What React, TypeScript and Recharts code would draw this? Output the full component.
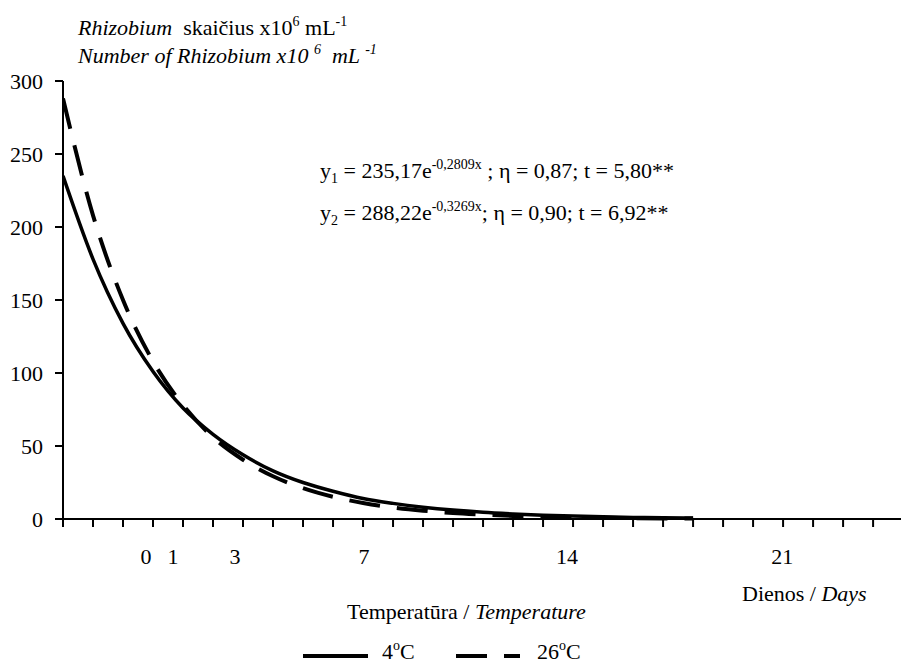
import React from 'react';
import { LineChart, Line, XAxis, YAxis } from 'recharts';

// days (axis tick units) 0..21, counts
const days = [0, 1, 2, 3, 4, 5, 6, 7, 8, 9, 10, 11, 12, 13, 14, 15, 16, 17, 18, 19, 20, 21];
const count4C = [235, 178, 134, 101, 76, 58, 44, 33, 25, 19, 14, 10.7, 8.1, 6.1, 4.6, 3.5, 2.6, 2.0, 1.5, 1.1, 0.85, 0.65];
const count26C = [288, 208, 150, 108, 78, 56, 40.6, 29.3, 21.1, 15.2, 11, 7.9, 5.7, 4.1, 3, 2.1, 1.5, 1.1, 0.8, 0.6, 0.4, 0.3];

const yTicks = [0, 50, 100, 150, 200, 250, 300];
const xMinorTicks = Array.from({ length: 28 }, (_, i) => i);
const xLabels = ['0', '1', '3', '7', '14', '21'];
const xLabelPos = [2.77, 3.67, 5.73, 10.03, 16.8, 23.97];

const data = days.map((d, i) => ({ t: d, c4: count4C[i], c26: count26C[i] }));

const FONT = 'Liberation Serif, Times New Roman, serif';
const textStyle: React.CSSProperties = { fontFamily: FONT, fontSize: 22, whiteSpace: 'pre' };

export default function App() {
  return (
    <div style={{ position: 'absolute', left: 0, top: 0, width: 901, height: 663, background: '#fff', fontFamily: FONT }}>
      <LineChart
        width={901}
        height={663}
        data={data}
        margin={{ top: 81, right: 0, left: 0, bottom: 94 }}
      >
        <XAxis
          dataKey="t"
          type="number"
          domain={[0, 27.93]}
          ticks={xMinorTicks}
          tick={() => <g />}
          tickSize={8}
          height={10}
          interval={0}
          axisLine={{ stroke: '#000', strokeWidth: 2 }}
          tickLine={{ stroke: '#000', strokeWidth: 2 }}
          allowDataOverflow
        />
        <XAxis
          xAxisId="labels"
          dataKey="t"
          type="number"
          domain={[0, 27.93]}
          ticks={xLabelPos}
          tickFormatter={(v: number) => xLabels[xLabelPos.indexOf(v)] ?? ''}
          tickSize={0}
          tickMargin={19}
          height={40}
          axisLine={false}
          tickLine={false}
          interval={0}
          tick={{ fill: '#000', fontSize: 22, style: { fontFamily: FONT } }}
          allowDataOverflow
        />
        <YAxis
          type="number"
          domain={[0, 300]}
          ticks={yTicks}
          width={63}
          tickSize={8}
          tickMargin={12}
          interval={0}
          axisLine={{ stroke: '#000', strokeWidth: 2 }}
          tickLine={{ stroke: '#000', strokeWidth: 2 }}
          tick={{ fill: '#000', fontSize: 22, style: { fontFamily: FONT } }}
        />
        <Line
          dataKey="c26"
          type="monotone"
          stroke="#000"
          strokeWidth={4}
          strokeDasharray="31 17"
          dot={false}
          isAnimationActive={false}
        />
        <Line
          dataKey="c4"
          type="monotone"
          stroke="#000"
          strokeWidth={3.5}
          dot={false}
          isAnimationActive={false}
        />
      </LineChart>

      <svg
        width={901}
        height={663}
        style={{ position: 'absolute', left: 0, top: 0, pointerEvents: 'none' }}
        fill="#000"
      >
        <text x={78} y={35} style={textStyle}>
          <tspan fontStyle="italic">Rhizobium</tspan>
          <tspan>{'  skaičius x10'}</tspan>
          <tspan dy={-9} fontSize={14}>6</tspan>
          <tspan dy={9}>{' mL'}</tspan>
          <tspan dy={-9} fontSize={14}>-1</tspan>
        </text>
        <text x={78} y={63} style={{ ...textStyle, fontStyle: 'italic' }}>
          <tspan>Number of Rhizobium x10 </tspan>
          <tspan dy={-9} fontSize={14}>6</tspan>
          <tspan dy={9}>{'  mL '}</tspan>
          <tspan dy={-9} fontSize={14}>-1</tspan>
        </text>

        <text x={320} y={178} style={textStyle}>
          <tspan>y</tspan>
          <tspan dy={5} fontSize={14}>1</tspan>
          <tspan dy={-5}>{' = 235,17e'}</tspan>
          <tspan dy={-9} fontSize={14}>-0,2809x</tspan>
          <tspan dy={9}>{' ; η = 0,87; t = 5,80**'}</tspan>
        </text>
        <text x={320} y={220} style={textStyle}>
          <tspan>y</tspan>
          <tspan dy={5} fontSize={14}>2</tspan>
          <tspan dy={-5}>{' = 288,22e'}</tspan>
          <tspan dy={-9} fontSize={14}>-0,3269x</tspan>
          <tspan dy={9}>{'; η = 0,90; t = 6,92**'}</tspan>
        </text>

        <text x={742} y={601} style={textStyle}>
          <tspan>{'Dienos / '}</tspan>
          <tspan fontStyle="italic">Days</tspan>
        </text>
        <text x={347} y={619} style={textStyle}>
          <tspan>{'Temperatūra / '}</tspan>
          <tspan fontStyle="italic">Temperature</tspan>
        </text>

        <line x1={303} y1={656} x2={368} y2={656} stroke="#000" strokeWidth={4} />
        <text x={382} y={659} style={textStyle}>
          <tspan>4</tspan>
          <tspan dy={-9} fontSize={14}>o</tspan>
          <tspan dy={9}>C</tspan>
        </text>
        <line x1={456} y1={656} x2={520} y2={656} stroke="#000" strokeWidth={4} strokeDasharray="31 17" />
        <text x={537} y={659} style={textStyle}>
          <tspan>26</tspan>
          <tspan dy={-9} fontSize={14}>o</tspan>
          <tspan dy={9}>C</tspan>
        </text>
      </svg>
    </div>
  );
}
